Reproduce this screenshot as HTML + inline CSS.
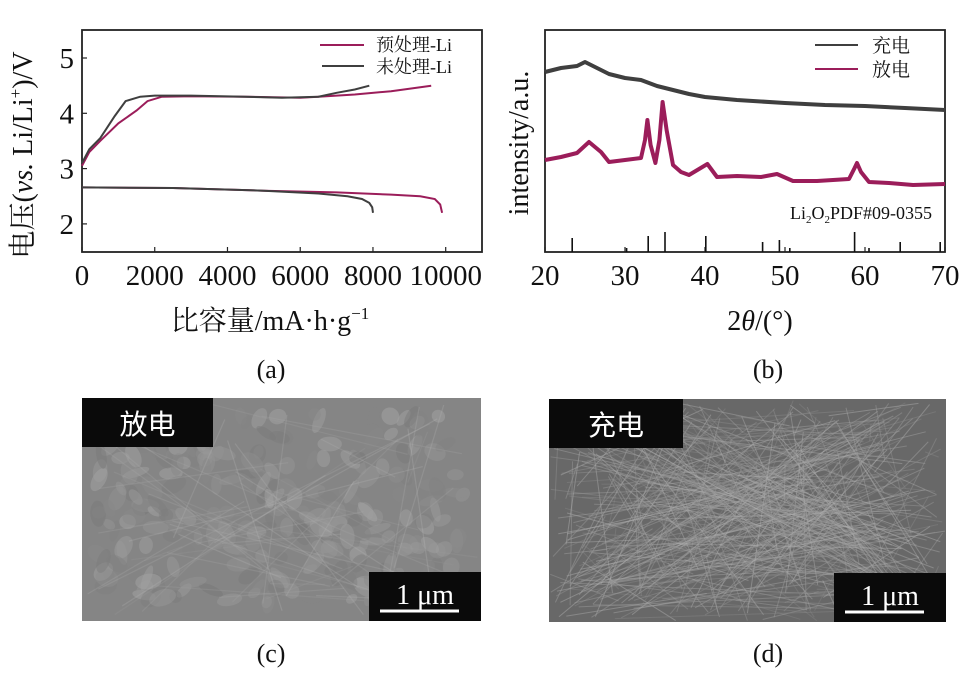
<!DOCTYPE html>
<html><head><meta charset="utf-8">
<style>
html,body{margin:0;padding:0;background:#fff;width:961px;height:674px;overflow:hidden;}
svg{display:block;font-family:"Liberation Serif","Noto Serif CJK SC",serif;}
.sans{font-family:"Liberation Sans","Noto Sans CJK SC",sans-serif;}
</style></head>
<body>
<svg id="fig" width="961" height="674" viewBox="0 0 961 674">
  <g id="pa"></g>
  <g id="pb"></g>
  <g id="pc"></g>
  <g id="pd"></g>
</svg>
<script>
// ---------- Panel (a) data ----------
const aXTicks = [0,2000,4000,6000,8000,10000];
const aYTicks = [2,3,4,5];
const chargeTreatedCap = [0,200,500,1000,1500,1800,2200,3000,4500,6000,6500,7500,8500,9600];
const chargeTreatedV   = [3.05,3.3,3.5,3.82,4.05,4.22,4.3,4.31,4.3,4.28,4.3,4.34,4.4,4.5];
const chargeRawCap = [0,200,500,900,1200,1600,2000,3000,4500,5500,6500,7000,7500,7900];
const chargeRawV   = [3.1,3.35,3.55,3.95,4.22,4.3,4.32,4.32,4.3,4.28,4.3,4.37,4.43,4.5];
const dischTreatedCap = [0,2500,5000,7000,8500,9300,9700,9850,9900];
const dischTreatedV   = [2.66,2.65,2.6,2.57,2.53,2.5,2.45,2.35,2.2];
const dischRawCap = [0,2500,5000,6500,7300,7700,7900,7980,8000];
const dischRawV   = [2.66,2.65,2.6,2.55,2.5,2.45,2.38,2.3,2.2];
// ---------- Panel (b) data ----------
const bXTicks = [20,30,40,50,60,70];
const chargeTheta = [20,22,24,25,26,28,30,32,34,36,38,40,44,50,55,60,65,70];
const chargeInt   = [72,68,66,62,66,74,78,80,86,90,94,97,100,103,105,106,108,110];
const dischTheta = [20,22,24,25.5,27,28,30,32,32.5,32.8,33.2,33.8,34.3,34.7,35.2,36,37,38,40.3,41.5,44,47,49,51,54,58,58.7,59,59.5,60.5,63,66,70];
const dischInt   = [160,157,153,142,152,162,160,158,140,120,145,163,140,102,130,165,172,175,164,177,176,177,174,181,181,179,168,163,172,182,183,185,184];
const refTheta  = [23.4,30.2,32.9,35.0,40.1,47.2,49.3,50.6,58.7,60.5,64.4,69.4];
const refHeight = [14,4,16,20,16,10,12,4,20,4,10,10];

const NS="http://www.w3.org/2000/svg";
function mk(tag,attrs,parent,txt){const e=document.createElementNS(NS,tag);for(const k in attrs)e.setAttribute(k,attrs[k]);if(txt!==undefined)e.textContent=txt;parent.appendChild(e);return e;}
function pathFrom(xs,ys,fx,fy){return xs.map((x,i)=>(i?'L':'M')+fx(x).toFixed(1)+','+fy(ys[i]).toFixed(1)).join(' ');}

// ----- Panel a -----
const pa=document.getElementById('pa');
const ax=v=>82+v*0.03637, ay=v=>58+(5-v)*55.3;
let fa=mk('rect',{x:82,y:30,width:400,height:222,fill:'none',stroke:'#222','stroke-width':1.8},pa);

aXTicks.forEach(t=>{
  let l=mk('line',{x1:ax(t),x2:ax(t),y1:252,y2:247,stroke:'#222','stroke-width':1.2},pa);
  
  let tx=mk('text',{x:ax(t),y:285,'font-size':29,'text-anchor':'middle',fill:'#111'},pa,String(t));
  
});
aYTicks.forEach(t=>{
  let l=mk('line',{x1:82,x2:87,y1:ay(t),y2:ay(t),stroke:'#222','stroke-width':1.2},pa);
  
  let tx=mk('text',{x:74,y:ay(t)+10,'font-size':29,'text-anchor':'end',fill:'#111'},pa,String(t));
  
});
const PINK='#9b1d5a', GREY='#3f3f3f';
[[chargeTreatedCap,chargeTreatedV,PINK,'charge-treated-line'],[dischTreatedCap,dischTreatedV,PINK,'discharge-treated-line'],
 [chargeRawCap,chargeRawV,GREY,'charge-untreated-line'],[dischRawCap,dischRawV,GREY,'discharge-untreated-line']].forEach(s=>{
  let p=mk('path',{d:pathFrom(s[0],s[1],ax,ay),fill:'none',stroke:s[2],'stroke-width':2},pa);
  
});
let lg1=mk('line',{x1:320,x2:364,y1:45,y2:45,stroke:PINK,'stroke-width':2},pa);

let lt1=mk('text',{x:376,y:51,'font-size':18,fill:'#111'},pa,'预处理-Li');

let lg2=mk('line',{x1:322,x2:364,y1:66,y2:66,stroke:GREY,'stroke-width':2},pa);

let lt2=mk('text',{x:376,y:73,'font-size':18,fill:'#111'},pa,'未处理-Li');

let yta=mk('text',{x:0,y:0,'font-size':28,'text-anchor':'middle',fill:'#111',transform:'translate(32,155) rotate(-90)'},pa);

yta.innerHTML='电压(<tspan font-style="italic">vs.</tspan> Li/Li<tspan font-size="17" dy="-11">+</tspan><tspan dy="11">)/V</tspan>';
let xta=mk('text',{x:270,y:330,'font-size':28,'text-anchor':'middle',fill:'#111'},pa);

xta.innerHTML='比容量/mA·h·g<tspan font-size="17" dy="-11">−1</tspan>';
let capA=mk('text',{x:271,y:378,'font-size':26,'text-anchor':'middle',fill:'#111'},pa,'(a)');


// ----- Panel b -----
const pb=document.getElementById('pb');
const bx=v=>545+(v-20)*8, by=v=>v;
let fb=mk('rect',{x:545,y:30,width:400,height:222,fill:'none',stroke:'#222','stroke-width':1.8},pb);

bXTicks.forEach(t=>{
  let l=mk('line',{x1:bx(t),x2:bx(t),y1:252,y2:247,stroke:'#222','stroke-width':1.2},pb);
  
  let tx=mk('text',{x:bx(t),y:285,'font-size':29,'text-anchor':'middle',fill:'#111'},pb,String(t));
  
});
let cb=mk('path',{d:pathFrom(chargeTheta,chargeInt,bx,by),fill:'none',stroke:GREY,'stroke-width':4,'stroke-linejoin':'round'},pb);

let db=mk('path',{d:pathFrom(dischTheta,dischInt,bx,by),fill:'none',stroke:PINK,'stroke-width':4,'stroke-linejoin':'round'},pb);

refTheta.forEach((t,i)=>{
  let l=mk('line',{x1:bx(t),x2:bx(t),y1:252,y2:252-refHeight[i],stroke:'#111','stroke-width':1.6},pb);
  
});
let rl=mk('text',{x:932,y:219,'font-size':18,'text-anchor':'end',fill:'#111'},pb);

rl.innerHTML='Li<tspan font-size="11" dy="4">2</tspan><tspan dy="-4">O</tspan><tspan font-size="11" dy="4">2</tspan><tspan dy="-4">PDF#09-0355</tspan>';
let bl1=mk('line',{x1:815,x2:858,y1:45,y2:45,stroke:GREY,'stroke-width':2},pb);

let bt1=mk('text',{x:872,y:52,'font-size':19,fill:'#111'},pb,'充电');

let bl2=mk('line',{x1:815,x2:858,y1:69,y2:69,stroke:PINK,'stroke-width':2},pb);

let bt2=mk('text',{x:872,y:76,'font-size':19,fill:'#111'},pb,'放电');

let ytb=mk('text',{x:0,y:0,'font-size':28,'text-anchor':'middle',fill:'#111',transform:'translate(528,143) rotate(-90)'},pb,'intensity/a.u.');

let xtb=mk('text',{x:760,y:330,'font-size':28,'text-anchor':'middle',fill:'#111'},pb);

xtb.innerHTML='2<tspan font-style="italic">θ</tspan>/(°)';
let capB=mk('text',{x:768,y:378,'font-size':26,'text-anchor':'middle',fill:'#111'},pb,'(b)');


// ----- SEM panels (decorative texture, all geometry kept inside the image rect) -----
function sem(g,x0,y0,w,h,bg,label,lw,capX,capTxt,kind){
  let r=mk('rect',{x:x0,y:y0,width:w,height:h,fill:bg},g);
  
  const tex=mk('g',{},g);
  
  let s=kind==='c'?7:13;
  const rnd=()=>{s=(s*16807)%2147483647;return s/2147483647;};
  if(kind==='c'){
    for(let i=0;i<260;i++){
      const rx=6+rnd()*8, ry=4+rnd()*5;
      const cx=x0+16+rnd()*(w-32), cy=y0+16+rnd()*(h-32);
      const c=Math.round(120+rnd()*45);
      mk('ellipse',{cx:cx.toFixed(1),cy:cy.toFixed(1),rx:rx.toFixed(1),ry:ry.toFixed(1),fill:`rgb(${c},${c},${c})`,opacity:0.5,transform:`rotate(${(rnd()*180).toFixed(0)} ${cx.toFixed(1)} ${cy.toFixed(1)})`},tex);
    }
    for(let i=0;i<50;i++){
      const c=Math.round(150+rnd()*40);
      mk('line',{x1:x0+2+rnd()*(w-4),y1:y0+2+rnd()*(h-4),x2:x0+2+rnd()*(w-4),y2:y0+2+rnd()*(h-4),stroke:`rgb(${c},${c},${c})`,'stroke-width':1.2,opacity:0.25},tex);
    }
  } else {
    for(let i=0;i<420;i++){
      const c=Math.round(130+rnd()*50);
      mk('line',{x1:(x0+1+rnd()*(w-2)).toFixed(1),y1:(y0+1+rnd()*(h-2)).toFixed(1),x2:(x0+1+rnd()*(w-2)).toFixed(1),y2:(y0+1+rnd()*(h-2)).toFixed(1),stroke:`rgb(${c},${c},${c})`,'stroke-width':1,opacity:0.45},tex);
    }
  }
  let lb=mk('rect',{x:x0,y:y0,width:lw,height:49,fill:'#0a0a0a'},g);
  
  let lt=mk('text',{x:x0+lw/2,y:y0+36,'font-size':28,'text-anchor':'middle',fill:'#fff',class:'sans'},g,label);
  
  let sb=mk('rect',{x:x0+w-112,y:y0+h-49,width:112,height:49,fill:'#0a0a0a'},g);
  
  let st=mk('text',{x:x0+w-56,y:y0+h-17,'font-size':28,'text-anchor':'middle',fill:'#fff'},g,'1 μm');
  
  let sl=mk('line',{x1:x0+w-101,x2:x0+w-22,y1:y0+h-10,y2:y0+h-10,stroke:'#fff','stroke-width':3},g);
  
  let cap=mk('text',{x:capX,y:662,'font-size':26,'text-anchor':'middle',fill:'#111'},g,capTxt);
  
}
sem(document.getElementById('pc'),82,398,399,223,'#858585','放电',131,271,'(c)','c');
sem(document.getElementById('pd'),549,399,397,223,'#686868','充电',134,768,'(d)','d');
</script>
</body></html>
